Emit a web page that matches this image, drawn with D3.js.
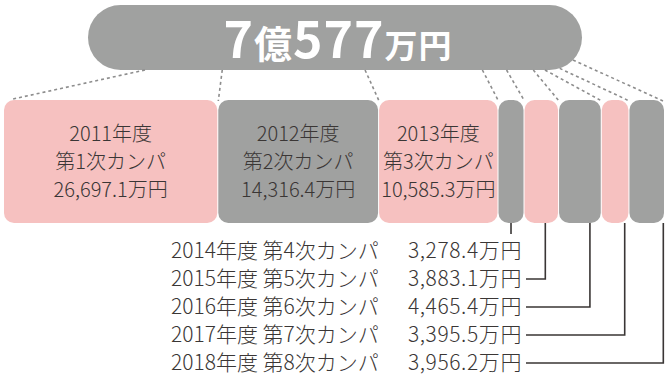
<!DOCTYPE html>
<html><head><meta charset="utf-8">
<script src="https://cdn.jsdelivr.net/npm/d3@7"></script>
<style>
html,body{margin:0;padding:0;background:#fff;}
svg{display:block;font-family:"Noto Sans CJK JP","Noto Sans",sans-serif;}
</style></head>
<body>
<svg id="chart" width="669" height="384"></svg>
<script>
// ---- data ----
const years = ["2011年度","2012年度","2013年度","2014年度","2015年度","2016年度","2017年度","2018年度"];
const campaigns = ["第1次カンパ","第2次カンパ","第3次カンパ","第4次カンパ","第5次カンパ","第6次カンパ","第7次カンパ","第8次カンパ"];
const amounts = [26697.1, 14316.4, 10585.3, 3278.4, 3883.1, 4465.4, 3395.5, 3956.2]; // 万円
const unit = "万円";

// ---- layout ----
const pink = "#f6c1c0", grey = "#a0a1a0", ink = "#3a3635", dash = "#8d8d8d";
const barTop = 100, barBot = 223, barLeft = 4, barRight = 664, gap = 1;
const pill = {x0: 88, x1: 582, y0: 5, y1: 70};

const svg = d3.select("#chart");
const fmt = d3.format(",.1f");

// width scale: piecewise linear (broken) scale compressing the largest values
const wScale = d3.scaleLinear()
  .domain([3000, 4500, 11000, 14500, 27000]).range([21, 42, 123, 161, 213.5]);
const raw = amounts.map(v => wScale(v));
const k = (barRight - barLeft - gap*(amounts.length-1)) / d3.sum(raw);
const segs = [];
let cx = barLeft;
amounts.forEach((v,i) => {
  const w = raw[i]*k;
  segs.push({i, v, x: cx, w, year: years[i], camp: campaigns[i]});
  cx += w + gap;
});

// ---- pill ----
const r = (pill.y1 - pill.y0)/2;
svg.append("rect").attr("x", pill.x0).attr("y", pill.y0)
  .attr("width", pill.x1 - pill.x0).attr("height", pill.y1 - pill.y0)
  .attr("rx", r).attr("fill", grey);

const total = d3.sum(amounts);
const oku = Math.floor(total/10000), man = Math.round(total - oku*10000);
const tt = svg.append("text").attr("x", (pill.x0+pill.x1)/2 + 3).attr("y", 58)
  .attr("text-anchor", "middle").attr("fill", "#fff").attr("font-weight", 700)
  .attr("letter-spacing", 1);
tt.append("tspan").attr("font-size", 50).text(oku);
tt.append("tspan").attr("font-size", 38).text("億");
tt.append("tspan").attr("font-size", 50).text(man);
tt.append("tspan").attr("font-size", 33).text(unit);

// ---- dashed connectors ----
const bounds = segs.map(s => s.x).concat([segs[segs.length-1].x + segs[segs.length-1].w]);
const topX = d3.scaleLinear()
  .domain([barLeft, 218, 377, 497, 525, 558, 602, 630, barRight])
  .range([145, 222, 363, 481, 507, 533, 545, 560, 573]);
function pillY(x){
  const cr = pill.x1 - r, cl = pill.x0 + r, cy = pill.y0 + r;
  if (x > cr) return cy + Math.sqrt(Math.max(0, r*r - (x-cr)*(x-cr)));
  if (x < cl) return cy + Math.sqrt(Math.max(0, r*r - (x-cl)*(x-cl)));
  return pill.y1;
}
svg.append("g").selectAll("line").data(bounds).join("line")
  .attr("x1", (b,i) => topX(b))
  .attr("y1", (b,i) => pillY(topX(b)))
  .attr("x2", (b,i) => i===0 ? b+9 : (i===bounds.length-1 ? b-1 : b))
  .attr("y2", (b,i) => i===0 ? barTop-1 : barTop+1)
  .attr("stroke", dash).attr("stroke-width", 1.6).attr("stroke-dasharray", "3,3");

// ---- segments ----
svg.append("g").selectAll("rect").data(segs).join("rect")
  .attr("x", d => d.x).attr("y", barTop)
  .attr("width", d => d.w).attr("height", barBot - barTop)
  .attr("rx", 10).attr("fill", d => d.i % 2 === 0 ? pink : grey);

// labels inside big segments
const big = segs.filter(d => d.w > 100);
const lab = svg.append("g").attr("fill", ink).attr("font-size", 20)
  .attr("font-weight", 300).attr("text-anchor", "middle");
big.forEach(d => {
  const mx = d.x + d.w/2;
  [d.year, d.camp, fmt(d.v) + unit].forEach((t,j) => {
    lab.append("text").attr("x", mx).attr("y", 141 + j*28).text(t);
  });
});

// rows for small segments
const small = segs.filter(d => d.w <= 100);
const rowY = d3.scalePoint().domain(small.map(d => d.i)).range([251, 363]);
const rows = svg.append("g").attr("fill", ink).attr("font-size", 21).attr("font-weight", 300);
small.forEach((d,j) => {
  const y = rowY(d.i);
  rows.append("text").attr("x", 171).attr("y", y + 7).text(d.year + " " + d.camp);
  rows.append("text").attr("x", 522).attr("y", y + 7).attr("text-anchor", "end")
    .attr("letter-spacing", 0.6).text(fmt(d.v) + unit);
  const vx = d.x + d.w*(0.5 + 0.12*j);
  let path;
  if (j === 0) path = `M${vx},${barBot}V${y-17}`;
  else path = `M${vx},${barBot}V${y}H${526}`;
  svg.append("path").attr("d", path).attr("fill", "none")
    .attr("stroke", ink).attr("stroke-width", 1.6);
});
</script>
</body></html>
